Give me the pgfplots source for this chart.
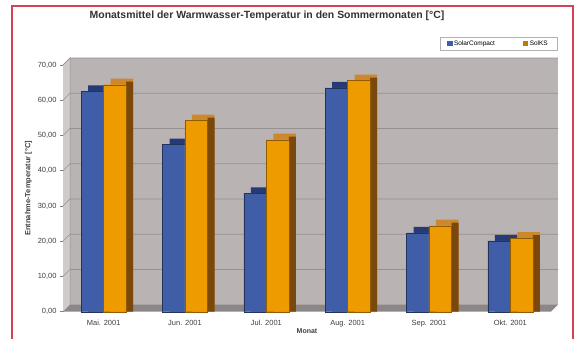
\documentclass[border=0pt]{standalone}
\usepackage{pgfplots}
\pgfplotsset{compat=1.18}
\usepackage{pgfplotstable}
\usepackage{fontspec}
\setmainfont{Liberation Sans}
\definecolor{cblue}{RGB}{64,94,168}
\definecolor{cbluetop}{RGB}{38,58,118}
\definecolor{corange}{RGB}{238,155,0}
\definecolor{corangetop}{RGB}{205,135,45}
\definecolor{corangeside}{RGB}{122,72,10}
\definecolor{wall}{RGB}{185,179,179}
\definecolor{sidewall}{RGB}{208,203,203}
\definecolor{floorc}{RGB}{140,135,135}
\definecolor{gridc}{RGB}{150,145,145}
\definecolor{framered}{RGB}{215,65,85}

\pgfplotstableread{
x blue orange
0 62.5 64.4
1 47.4 54.2
2 33.6 48.8
3 63.5 65.6
4 22.4 24.4
5 20.1 20.9
}\data

\begin{document}
\begin{tikzpicture}[x=1bp,y=1bp]
\useasboundingbox (0,0) rectangle (582,338);
\fill[white] (0,0) rectangle (582,338);
\draw[framered, line width=2bp] (12,-2) -- (12,332) -- (572.5,332) -- (572.5,-2);
\node[font=\bfseries\fontsize{10.5}{12}\selectfont, text=black!80] at (267,322) {Monatsmittel der Warmwasser-Temperatur in den Sommermonaten [°C]};
\begin{axis}[
  at={(63bp,26.3bp)}, anchor=south west,
  scale only axis, width=488bp, height=246.7bp,
  xmin=-0.5, xmax=5.5, ymin=0, ymax=70,
  clip=false,
  axis lines*=left,
  x axis line style={draw=none},
  y axis line style={draw=gray, line width=0.5bp},
  xtick={0,...,5},
  xticklabels={Mai. 2001, Jun. 2001, Jul. 2001, Aug. 2001, Sep. 2001, Okt. 2001},
  xtick style={draw=none},
  xticklabel style={font=\fontsize{7.5}{8}\selectfont, text=black!75, yshift=-2bp},
  ytick={0,10,...,70},
  yticklabels={{0,00},{10,00},{20,00},{30,00},{40,00},{50,00},{60,00},{70,00}},
  ytick style={draw=gray, line width=0.5bp},
  tick align=outside, major tick length=3bp,
  yticklabel style={font=\fontsize{7.5}{8}\selectfont, text=black!75},
  xlabel={Monat},
  xlabel style={font=\bfseries\fontsize{7}{8}\selectfont, text=black!75, yshift=5bp},
  ylabel={Entnahme-Temperatur [°C]},
  ylabel style={font=\bfseries\fontsize{7.5}{8}\selectfont, text=black!75, yshift=-1bp},
  legend style={at={(1.0123,1.1135)}, anchor=north east, legend columns=2,
    font=\fontsize{6.5}{7}\selectfont, draw=gray!60, inner ysep=1.2bp, inner xsep=7bp,
    /tikz/every even column/.append style={column sep=26bp}},
]
% side wall, back wall, grid, floor
\fill[sidewall] (axis cs:-0.5,0) -- ([shift={(7bp,7bp)}]axis cs:-0.5,0) -- ([shift={(7bp,7bp)}]axis cs:-0.5,70) -- (axis cs:-0.5,70) -- cycle;
\fill[wall] ([shift={(7bp,7bp)}]axis cs:-0.5,0) rectangle ([shift={(7bp,7bp)}]axis cs:5.5,70);
\pgfplotsinvokeforeach{10,20,30,40,50,60,70}{
  \draw[gridc, line width=0.6bp] (axis cs:-0.5,#1) -- ([shift={(7bp,7bp)}]axis cs:-0.5,#1) -- ([shift={(7bp,7bp)}]axis cs:5.5,#1);
}
\draw[gridc, line width=0.5bp] ([shift={(7bp,7bp)}]axis cs:-0.5,0) -- ([shift={(7bp,7bp)}]axis cs:-0.5,70) -- (axis cs:-0.5,70);
\fill[floorc] (axis cs:-0.5,0) -- (axis cs:5.5,0) -- ([shift={(7bp,7bp)}]axis cs:5.5,0) -- ([shift={(7bp,7bp)}]axis cs:-0.5,0) -- cycle;

% blue series
\addplot[ybar, bar width=0.2767, bar shift=-0.052, fill=cbluetop, draw=none, forget plot]
  table[x=x, y expr=\thisrow{blue}+1.7]{\data};
\addplot[ybar, bar width=0.2767, bar shift=-0.138, fill=cblue, draw=cblue!55!black, line width=0.4bp,
  legend image code/.code={\fill[cblue] (0bp,-2.2bp) rectangle (4.4bp,2.2bp);}]
  table[x=x, y=blue]{\data};
\addlegendentry{SolarCompact}
% orange series
\addplot[ybar, bar width=0.2767, bar shift=0.224, fill=corangetop, draw=none, forget plot]
  table[x=x, y expr=\thisrow{orange}+1.7]{\data};
\addplot[ybar, bar width=0.086, bar shift=0.3197, fill=corangeside, draw=none, forget plot]
  table[x=x, y expr=\thisrow{orange}+0.85]{\data};
\addplot[ybar, bar width=0.2767, bar shift=0.138, fill=corange, draw=corange!60!black, line width=0.4bp,
  legend image code/.code={\fill[corange!80!black] (0bp,-2.2bp) rectangle (4.4bp,2.2bp);}]
  table[x=x, y=orange]{\data};
\addlegendentry{SolKS}
\end{axis}
\end{tikzpicture}
\end{document}
